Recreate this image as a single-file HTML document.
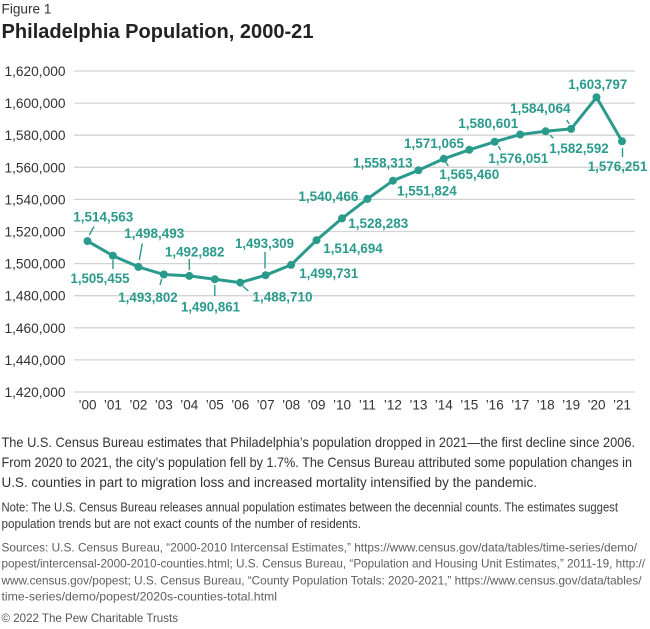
<!DOCTYPE html>
<html><head><meta charset="utf-8"><style>
html,body{margin:0;padding:0;background:#fff;}
svg{display:block;}
text{font-family:"Liberation Sans",sans-serif;}
.lab{font-weight:bold;font-size:14px;fill:#2a9a8d;}
.ax{font-size:14px;fill:#333;}
.xt{font-size:13.5px;fill:#333;}
</style></head><body>
<svg width="650" height="629" viewBox="0 0 650 629" xmlns="http://www.w3.org/2000/svg">
<text x="1.5" y="13.5" font-size="14" fill="#333" textLength="50" lengthAdjust="spacingAndGlyphs">Figure 1</text>
<text x="1.5" y="38" font-size="20.5" font-weight="bold" fill="#222" textLength="312" lengthAdjust="spacingAndGlyphs">Philadelphia Population, 2000-21</text>

<g stroke="#d3d3d3" stroke-width="1.3">
<line x1="74" x2="635" y1="71" y2="71"/>
<line x1="74" x2="635" y1="103.1" y2="103.1"/>
<line x1="74" x2="635" y1="135.2" y2="135.2"/>
<line x1="74" x2="635" y1="167.3" y2="167.3"/>
<line x1="74" x2="635" y1="199.4" y2="199.4"/>
<line x1="74" x2="635" y1="231.5" y2="231.5"/>
<line x1="74" x2="635" y1="263.6" y2="263.6"/>
<line x1="74" x2="635" y1="295.7" y2="295.7"/>
<line x1="74" x2="635" y1="327.8" y2="327.8"/>
<line x1="74" x2="635" y1="359.9" y2="359.9"/>
<line x1="74" x2="635" y1="392" y2="392"/>
</g>
<g class="ax" text-anchor="end">
<text x="65.5" y="76" textLength="61" lengthAdjust="spacingAndGlyphs">1,620,000</text>
<text x="65.5" y="108.1" textLength="61" lengthAdjust="spacingAndGlyphs">1,600,000</text>
<text x="65.5" y="140.2" textLength="61" lengthAdjust="spacingAndGlyphs">1,580,000</text>
<text x="65.5" y="172.3" textLength="61" lengthAdjust="spacingAndGlyphs">1,560,000</text>
<text x="65.5" y="204.4" textLength="61" lengthAdjust="spacingAndGlyphs">1,540,000</text>
<text x="65.5" y="236.5" textLength="61" lengthAdjust="spacingAndGlyphs">1,520,000</text>
<text x="65.5" y="268.6" textLength="61" lengthAdjust="spacingAndGlyphs">1,500,000</text>
<text x="65.5" y="300.7" textLength="61" lengthAdjust="spacingAndGlyphs">1,480,000</text>
<text x="65.5" y="332.8" textLength="61" lengthAdjust="spacingAndGlyphs">1,460,000</text>
<text x="65.5" y="364.9" textLength="61" lengthAdjust="spacingAndGlyphs">1,440,000</text>
<text x="65.5" y="397" textLength="61" lengthAdjust="spacingAndGlyphs">1,420,000</text>
</g>
<g class="xt" text-anchor="middle">
<text x="87.5" y="409.5">’00</text>
<text x="112.9" y="409.5">’01</text>
<text x="138.4" y="409.5">’02</text>
<text x="163.8" y="409.5">’03</text>
<text x="189.3" y="409.5">’04</text>
<text x="214.8" y="409.5">’05</text>
<text x="240.2" y="409.5">’06</text>
<text x="265.6" y="409.5">’07</text>
<text x="291.1" y="409.5">’08</text>
<text x="316.5" y="409.5">’09</text>
<text x="342" y="409.5">’10</text>
<text x="367.4" y="409.5">’11</text>
<text x="392.9" y="409.5">’12</text>
<text x="418.4" y="409.5">’13</text>
<text x="443.8" y="409.5">’14</text>
<text x="469.3" y="409.5">’15</text>
<text x="494.7" y="409.5">’16</text>
<text x="520.2" y="409.5">’17</text>
<text x="545.6" y="409.5">’18</text>
<text x="571.1" y="409.5">’19</text>
<text x="596.5" y="409.5">’20</text>
<text x="622" y="409.5">’21</text>
</g>

<g stroke="#2a9a8d" stroke-width="1.4">
<line x1="89.3" y1="235" x2="94" y2="226.5"/>
<line x1="113" y1="260" x2="113" y2="269"/>
<line x1="139.3" y1="260" x2="142.3" y2="243.5"/>
<line x1="161.7" y1="279" x2="160" y2="285"/>
<line x1="189.3" y1="259" x2="189.3" y2="270"/>
<line x1="214.8" y1="285" x2="214.8" y2="296"/>
<line x1="242.7" y1="286" x2="248.3" y2="291"/>
<line x1="265" y1="252" x2="265" y2="268.5"/>
<line x1="445" y1="161" x2="448.3" y2="166"/>
<line x1="498.3" y1="146" x2="500.7" y2="150"/>
<line x1="550" y1="135" x2="553.3" y2="138.3"/>
<line x1="566.7" y1="120" x2="569.3" y2="124"/>
<line x1="622.5" y1="148" x2="622.5" y2="157"/>
</g>

<polyline fill="none" stroke="#2a9a8d" stroke-width="3" stroke-linejoin="round" points="87.5,241.1 112.9,255.7 138.4,266.9 163.8,274.5 189.3,275.9 214.8,279.2 240.2,282.6 265.6,275.2 291.1,264.9 316.5,240.2 342,218.4 367.4,198.9 392.9,180.7 418.4,170.3 443.8,158.8 469.3,149.8 494.7,141.8 520.2,134.5 545.6,131.3 571.1,128.9 596.5,97.3 622,141.3"/>
<g fill="#2a9a8d">
<circle cx="87.5" cy="241.1" r="4"/>
<circle cx="112.9" cy="255.7" r="4"/>
<circle cx="138.4" cy="266.9" r="4"/>
<circle cx="163.8" cy="274.5" r="4"/>
<circle cx="189.3" cy="275.9" r="4"/>
<circle cx="214.8" cy="279.2" r="4"/>
<circle cx="240.2" cy="282.6" r="4"/>
<circle cx="265.6" cy="275.2" r="4"/>
<circle cx="291.1" cy="264.9" r="4"/>
<circle cx="316.5" cy="240.2" r="4"/>
<circle cx="342" cy="218.4" r="4"/>
<circle cx="367.4" cy="198.9" r="4"/>
<circle cx="392.9" cy="180.7" r="4"/>
<circle cx="418.4" cy="170.3" r="4"/>
<circle cx="443.8" cy="158.8" r="4"/>
<circle cx="469.3" cy="149.8" r="4"/>
<circle cx="494.7" cy="141.8" r="4"/>
<circle cx="520.2" cy="134.5" r="4"/>
<circle cx="545.6" cy="131.3" r="4"/>
<circle cx="571.1" cy="128.9" r="4"/>
<circle cx="596.5" cy="97.3" r="4"/>
<circle cx="622" cy="141.3" r="4"/>
</g>

<g class="lab" text-anchor="middle">
<text x="103.3" y="221.5" textLength="60" lengthAdjust="spacingAndGlyphs">1,514,563</text>
<text x="100" y="283.1" textLength="59" lengthAdjust="spacingAndGlyphs">1,505,455</text>
<text x="154.3" y="238.1" textLength="60" lengthAdjust="spacingAndGlyphs">1,498,493</text>
<text x="148" y="302.1" textLength="59.5" lengthAdjust="spacingAndGlyphs">1,493,802</text>
<text x="194.7" y="256.5" textLength="59.5" lengthAdjust="spacingAndGlyphs">1,492,882</text>
<text x="210.5" y="311.5" textLength="59" lengthAdjust="spacingAndGlyphs">1,490,861</text>
<text x="282.5" y="301.5" textLength="60" lengthAdjust="spacingAndGlyphs">1,488,710</text>
<text x="264.5" y="248.1" textLength="59" lengthAdjust="spacingAndGlyphs">1,493,309</text>
<text x="328.8" y="278.1" textLength="59" lengthAdjust="spacingAndGlyphs">1,499,731</text>
<text x="353" y="253.1" textLength="59.4" lengthAdjust="spacingAndGlyphs">1,514,694</text>
<text x="378.3" y="228.1" textLength="60" lengthAdjust="spacingAndGlyphs">1,528,283</text>
<text x="328.4" y="201.1" textLength="60" lengthAdjust="spacingAndGlyphs">1,540,466</text>
<text x="426.9" y="195.5" textLength="59.7" lengthAdjust="spacingAndGlyphs">1,551,824</text>
<text x="382.8" y="167.5" textLength="59.5" lengthAdjust="spacingAndGlyphs">1,558,313</text>
<text x="469.3" y="178.8" textLength="60" lengthAdjust="spacingAndGlyphs">1,565,460</text>
<text x="434" y="148.1" textLength="60" lengthAdjust="spacingAndGlyphs">1,571,065</text>
<text x="518.3" y="163.1" textLength="60" lengthAdjust="spacingAndGlyphs">1,576,051</text>
<text x="488.3" y="128.1" textLength="60" lengthAdjust="spacingAndGlyphs">1,580,601</text>
<text x="579" y="153.1" textLength="59.4" lengthAdjust="spacingAndGlyphs">1,582,592</text>
<text x="540.3" y="113.1" textLength="60.7" lengthAdjust="spacingAndGlyphs">1,584,064</text>
<text x="597.8" y="88.8" textLength="59" lengthAdjust="spacingAndGlyphs">1,603,797</text>
<text x="617.5" y="170.8" textLength="59.6" lengthAdjust="spacingAndGlyphs">1,576,251</text>
</g>

<g font-size="14" fill="#333">
<text x="1.5" y="447" textLength="633.5" lengthAdjust="spacingAndGlyphs">The U.S. Census Bureau estimates that Philadelphia’s population dropped in 2021—the first decline since 2006.</text>
<text x="1.5" y="467" textLength="630.5" lengthAdjust="spacingAndGlyphs">From 2020 to 2021, the city’s population fell by 1.7%. The Census Bureau attributed some population changes in</text>
<text x="1.5" y="487" textLength="535.5" lengthAdjust="spacingAndGlyphs">U.S. counties in part to migration loss and increased mortality intensified by the pandemic.</text>
</g>
<g font-size="12.5" fill="#3a3a3a">
<text x="1.5" y="511.5" textLength="616.5" lengthAdjust="spacingAndGlyphs">Note: The U.S. Census Bureau releases annual population estimates between the decennial counts. The estimates suggest</text>
<text x="1.5" y="528" textLength="359.5" lengthAdjust="spacingAndGlyphs">population trends but are not exact counts of the number of residents.</text>
</g>
<g font-size="12" fill="#5e5e5e">
<text x="1.5" y="551.5" textLength="635.5" lengthAdjust="spacingAndGlyphs">Sources: U.S. Census Bureau, “2000-2010 Intercensal Estimates,” https://www.census.gov/data/tables/time-series/demo/</text>
<text x="1.5" y="567.5" textLength="643.5" lengthAdjust="spacingAndGlyphs">popest/intercensal-2000-2010-counties.html; U.S. Census Bureau, “Population and Housing Unit Estimates,” 2011-19, http://</text>
<text x="1.5" y="584.5" textLength="640" lengthAdjust="spacingAndGlyphs">www.census.gov/popest; U.S. Census Bureau, “County Population Totals: 2020-2021,” https://www.census.gov/data/tables/</text>
<text x="1.5" y="600.5" textLength="275.5" lengthAdjust="spacingAndGlyphs">time-series/demo/popest/2020s-counties-total.html</text>
</g>
<text x="1.5" y="622" font-size="12" fill="#555" textLength="176.5" lengthAdjust="spacingAndGlyphs">© 2022 The Pew Charitable Trusts</text>
</svg>
</body></html>
